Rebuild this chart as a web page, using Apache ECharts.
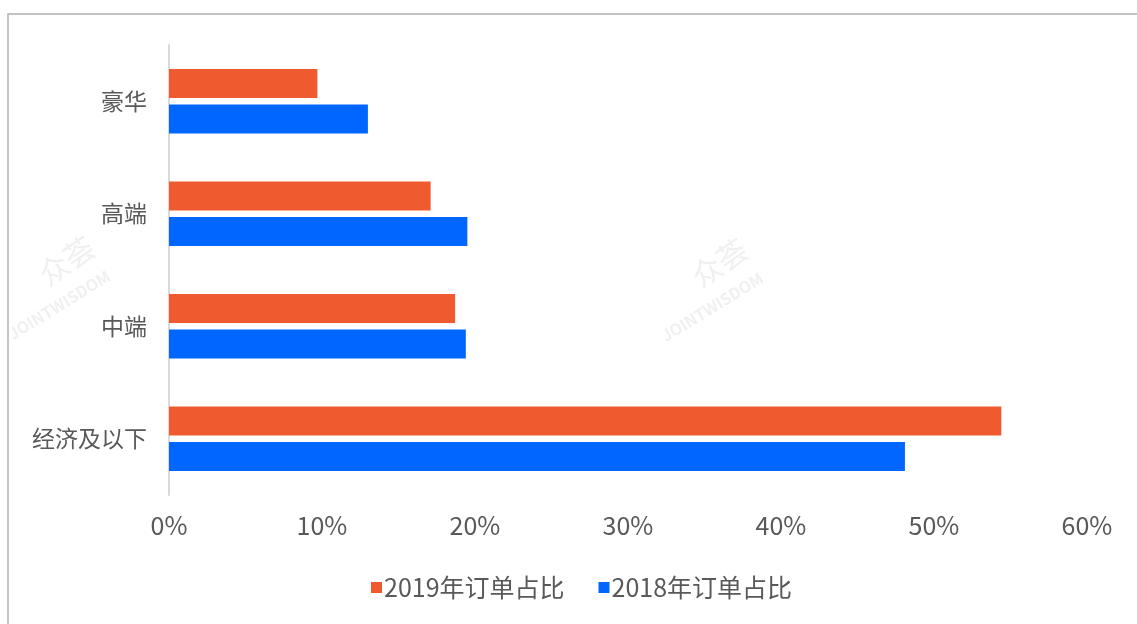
<!DOCTYPE html>
<html>
<head>
<meta charset="utf-8">
<title>订单占比</title>
<script src="https://cdn.jsdelivr.net/npm/echarts@6/dist/echarts.min.js"></script>
<style>
  html, body { margin: 0; padding: 0; background: #fff; }
  #chart { width: 1137px; height: 624px; }
</style>
</head>
<body>
<div id="chart"></div>
<script>
// 档次（自下而上）
const categories = ['经济及以下', '中端', '高端', '豪华']
const seriesNames = ['2019年订单占比', '2018年订单占比']
const orders2019 = [54.4, 18.7, 17.1, 9.7]
const orders2018 = [48.1, 19.4, 19.5, 13.0]
const xTicks = [0, 10, 20, 30, 40, 50, 60]

const font = '"Noto Sans CJK SC", "Noto Sans", sans-serif'
const textColor = '#595959'

// 水印文字（左下角为锚点）
function watermark(x, y) {
  return [
    {
      type: 'text', x: x, y: y, rotation: 0.6, z: -1, silent: true,
      style: { text: '众荟', fill: '#f0f0f0', font: '30px ' + font, verticalAlign: 'bottom' },
    },
    {
      type: 'text', x: x - 36, y: y + 52, rotation: 0.55, z: -1, silent: true,
      style: { text: 'JOINTWISDOM', fill: '#f0f0f0', font: 'bold 16px ' + font, verticalAlign: 'bottom' },
    },
  ]
}

const myChart = echarts.init(document.getElementById('chart'))

let option = {
  animation: false,
  textStyle: { fontFamily: font },
  graphic: [
    {
      type: 'rect',
      shape: { x: 8, y: 14, width: 1200, height: 700 },
      style: { fill: 'none', stroke: '#b0b0b0', lineWidth: 1.5 },
      silent: true,
    },
    ...watermark(703, 292),
    ...watermark(50, 290),
  ],
  legend: {
    data: seriesNames,
    left: 366,
    top: 570,
    icon: 'rect',
    itemWidth: 11,
    itemHeight: 11,
    itemGap: 34,
    textStyle: { color: textColor, fontSize: 25, fontFamily: font, padding: [0, 0, 0, -3] },
  },
  grid: {
    left: 169,
    right: 50,
    top: 45,
    bottom: 129,
  },
  xAxis: {
    type: 'value',
    min: xTicks[0],
    max: xTicks[xTicks.length - 1],
    interval: 10,
    axisLine: { show: false },
    axisTick: { show: false },
    splitLine: { show: false },
    axisLabel: {
      color: textColor,
      fontSize: 25,
      margin: 18,
      formatter: '{value}%',
    },
  },
  yAxis: {
    type: 'category',
    data: categories,
    axisLine: { show: true, lineStyle: { color: '#d9d9d9', width: 2 } },
    axisTick: { show: false },
    axisLabel: { color: textColor, fontSize: 23, margin: 22 },
  },
  series: [
    {
      name: seriesNames[0],
      type: 'bar',
      barWidth: 29,
      barGap: '22%',
      itemStyle: { color: '#F05A2F' },
      data: orders2019,
    },
    {
      name: seriesNames[1],
      type: 'bar',
      barWidth: 29,
      barGap: '22%',
      itemStyle: { color: '#0066FF' },
      data: orders2018,
    },
  ],
}
option && myChart.setOption(option)
</script>
</body>
</html>
